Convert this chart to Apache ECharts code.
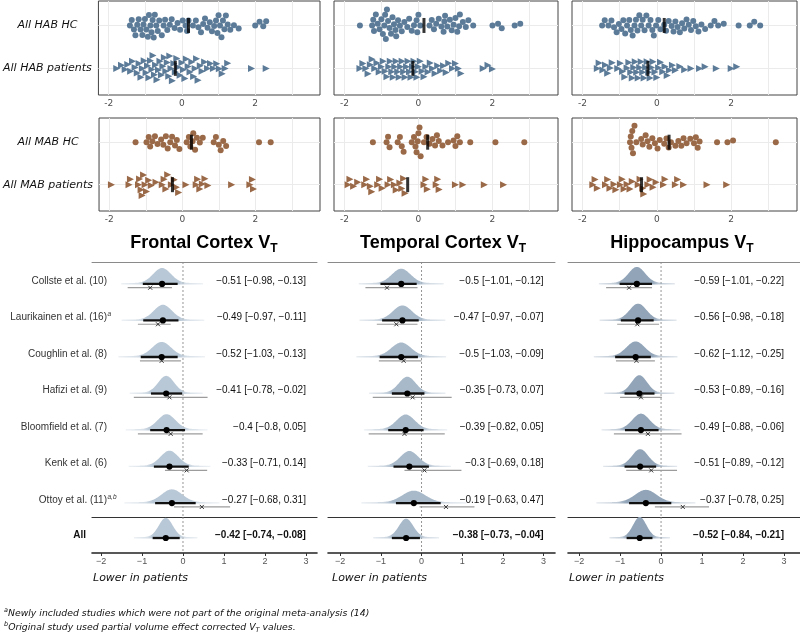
<!DOCTYPE html>
<html><head><meta charset="utf-8">
<script src="https://cdn.jsdelivr.net/npm/echarts@6/dist/echarts.min.js"></script>
<style>html,body{margin:0;padding:0;background:#fff}#c{width:800px;height:633px}</style>
</head><body><div id="c"></div>
<script>
// ---------------- data ----------------
const habRowLabels = ['All HAB patients', 'All HAB HC'];
const mabRowLabels = ['All MAB patients', 'All MAB HC'];
const regionTitles = ['Frontal Cortex V', 'Temporal Cortex V', 'Hippocampus V'];
const topTickLabels = [-2, 0, 2];
const gridTicks = [-2, -1, 0, 1, 2, 3];
const forestTickLabels = [-2, -1, 0, 1, 2, 3];

// individual standardized VT values (beeswarm panels)
const frontalHabHC = [-1.42,-1.37,-1.31,-1.27,-1.22,-1.18,-1.13,-1.08,-1.05,-1.01,-0.97,-0.93,-0.9,-0.86,-0.83,-0.8,-0.77,-0.74,-0.7,-0.66,-0.62,-0.55,-0.5,-0.46,-0.4,-0.33,-0.28,-0.2,-0.12,-0.05,0.02,0.1,0.14,0.18,0.3,0.38,0.45,0.52,0.58,0.63,0.7,0.76,0.82,0.88,0.93,0.97,1.0,1.04,1.08,1.12,1.16,1.2,1.25,1.32,1.42,1.55,2.0,2.12,2.22,2.3];
const frontalHabPt = [-1.78,-1.65,-1.55,-1.48,-1.4,-1.35,-1.28,-1.22,-1.17,-1.12,-1.08,-1.03,-0.98,-0.94,-0.9,-0.86,-0.82,-0.79,-0.75,-0.72,-0.68,-0.64,-0.6,-0.56,-0.52,-0.48,-0.44,-0.4,-0.36,-0.33,-0.3,-0.26,-0.22,-0.18,-0.14,-0.1,-0.05,0.0,0.04,0.08,0.12,0.17,0.22,0.27,0.32,0.36,0.4,0.44,0.5,0.55,0.62,0.7,0.78,0.86,0.95,1.02,1.1,1.18,1.25,1.9,2.3];
const frontalMabHC = [-1.28,-0.98,-0.92,-0.88,-0.82,-0.75,-0.68,-0.58,-0.52,-0.45,-0.4,-0.33,-0.28,-0.2,-0.15,-0.08,0.12,0.18,0.22,0.28,0.3,0.35,0.4,0.48,0.56,0.86,0.92,1.0,1.05,1.12,1.2,2.1,2.42];
const frontalMabPt = [-1.94,-1.46,-1.42,-1.2,-1.17,-1.13,-1.1,-1.06,-1.02,-0.98,-0.92,-0.85,-0.72,-0.55,-0.5,-0.45,-0.4,-0.3,-0.22,-0.16,-0.1,0.1,0.38,0.42,0.48,0.55,0.62,0.7,1.35,1.85,1.92,1.95];
const temporalHabHC = [-1.58,-1.25,-1.22,-1.2,-1.15,-1.1,-1.05,-1.0,-0.96,-0.92,-0.9,-0.88,-0.85,-0.82,-0.78,-0.74,-0.7,-0.66,-0.62,-0.6,-0.55,-0.5,-0.45,-0.38,-0.3,-0.25,-0.18,-0.12,-0.05,-0.03,0.0,0.05,0.3,0.36,0.42,0.48,0.55,0.62,0.68,0.7,0.72,0.78,0.85,0.9,0.95,1.0,1.05,1.1,1.12,1.2,1.28,1.35,1.48,2.0,2.15,2.25,2.6,2.75];
const temporalHabPt = [-1.58,-1.5,-1.42,-1.36,-1.3,-1.25,-1.18,-1.12,-1.06,-1.0,-0.95,-0.9,-0.85,-0.8,-0.76,-0.72,-0.68,-0.64,-0.6,-0.56,-0.52,-0.48,-0.44,-0.4,-0.36,-0.32,-0.28,-0.24,-0.2,-0.16,-0.12,-0.08,-0.04,0.0,0.05,0.1,0.15,0.2,0.26,0.32,0.38,0.45,0.52,0.6,0.68,0.75,0.82,0.92,1.0,1.08,1.15,1.75,1.88,2.0];
const temporalMabHC = [-1.23,-0.86,-0.82,-0.78,-0.56,-0.5,-0.45,-0.4,-0.18,-0.12,-0.08,-0.05,-0.02,0.0,0.03,0.06,0.15,0.22,0.3,0.38,0.45,0.5,0.55,0.65,0.8,0.95,1.0,1.05,1.12,1.4,2.08,2.86];
const temporalMabPt = [-1.9,-1.85,-1.75,-1.64,-1.45,-1.4,-1.3,-1.26,-1.1,-1.05,-0.98,-0.82,-0.75,-0.65,-0.6,-0.5,-0.45,-0.4,-0.36,0.15,0.2,0.24,0.48,0.52,0.56,1.0,1.2,1.78,2.3];
const hippoHabHC = [-1.47,-1.4,-1.3,-1.22,-1.15,-1.08,-1.02,-0.95,-0.9,-0.85,-0.8,-0.74,-0.7,-0.65,-0.6,-0.56,-0.52,-0.47,-0.42,-0.38,-0.33,-0.28,-0.22,-0.17,-0.12,-0.08,-0.02,0.04,0.1,0.2,0.25,0.32,0.4,0.45,0.5,0.56,0.62,0.68,0.74,0.8,0.86,0.92,0.98,1.05,1.12,1.2,1.3,1.45,1.55,1.65,1.8,2.2,2.5,2.62,2.78];
const hippoHabPt = [-1.6,-1.55,-1.45,-1.38,-1.32,-1.25,-1.2,-1.05,-0.98,-0.92,-0.86,-0.8,-0.75,-0.7,-0.66,-0.62,-0.58,-0.54,-0.5,-0.46,-0.42,-0.38,-0.34,-0.3,-0.26,-0.22,-0.18,-0.14,-0.1,-0.05,0.0,0.05,0.1,0.16,0.22,0.28,0.34,0.42,0.5,0.62,0.75,0.92,1.15,1.3,1.6,2.0,2.15];
const hippoMabHC = [-0.72,-0.7,-0.68,-0.66,-0.64,-0.6,-0.55,-0.42,-0.38,-0.3,-0.25,-0.2,-0.12,-0.05,0.02,0.08,0.2,0.26,0.32,0.38,0.5,0.58,0.66,0.72,0.8,0.9,1.0,1.05,1.1,1.15,1.62,1.9,2.05,3.2];
const hippoMabPt = [-1.72,-1.66,-1.6,-1.38,-1.32,-1.26,-1.15,-1.1,-0.98,-0.93,-0.88,-0.8,-0.72,-0.66,-0.5,-0.45,-0.38,-0.35,-0.24,-0.18,-0.1,-0.02,0.18,0.22,0.5,0.56,0.72,1.35,1.88];
// group means (black bars): HAB HC, HAB patients, MAB HC, MAB patients
const frontalMeans = [0.18, -0.18, 0.25, -0.27];
const temporalMeans = [0.15, -0.15, 0.25, -0.29];
const hippoMeans = [0.2, -0.24, 0.33, -0.41];

// forest plot
const studies = ['Collste et al. (10)', 'Laurikainen et al. (16)', 'Coughlin et al. (8)', 'Hafizi et al. (9)', 'Bloomfield et al. (7)', 'Kenk et al. (6)', 'Ottoy et al. (11)'];
const studySup = ['', 'a', '', '', '', '', 'a,b'];
const pooledLabel = 'All';
const frontalEst = [-0.51, -0.49, -0.52, -0.41, -0.4, -0.33, -0.27];
const frontalLo  = [-0.98, -0.97, -1.03, -0.78, -0.8, -0.71, -0.68];
const frontalHi  = [-0.13, -0.11, -0.13, -0.02, 0.05, 0.14, 0.31];
const frontalObs   = [-0.8, -0.61, -0.52, -0.33, -0.3, 0.09, 0.46];
const frontalObsLo = [-1.35, -1.1, -1.05, -1.2, -1.1, -0.44, -0.22];
const frontalObsHi = [-0.27, -0.3, -0.05, 0.6, 0.48, 0.59, 1.15];
const frontalAll = [-0.42, -0.74, -0.08];
const temporalEst = [-0.5, -0.47, -0.5, -0.35, -0.39, -0.3, -0.19];
const temporalLo  = [-1.01, -0.97, -1.03, -0.73, -0.82, -0.69, -0.63];
const temporalHi  = [-0.12, -0.07, -0.09, 0.07, 0.05, 0.18, 0.47];
const temporalObs   = [-0.85, -0.62, -0.44, -0.22, -0.42, 0.07, 0.6];
const temporalObsLo = [-1.38, -1.1, -1.05, -1.2, -1.3, -0.42, -0.05];
const temporalObsHi = [-0.1, -0.1, 0.0, 0.74, 0.57, 0.98, 1.3];
const temporalAll = [-0.38, -0.73, -0.04];
const hippoEst = [-0.59, -0.56, -0.62, -0.53, -0.49, -0.51, -0.37];
const hippoLo  = [-1.01, -0.98, -1.12, -0.89, -0.88, -0.89, -0.78];
const hippoHi  = [-0.22, -0.18, -0.25, -0.16, -0.06, -0.12, 0.25];
const hippoObs   = [-0.78, -0.58, -0.6, -0.49, -0.32, -0.24, 0.53];
const hippoObsLo = [-1.34, -1.07, -1.1, -1.0, -1.15, -0.85, -0.15];
const hippoObsHi = [-0.22, -0.05, -0.15, 0.02, 0.5, 0.39, 1.17];
const hippoAll = [-0.52, -0.84, -0.21];

// ---------------- layout / style ----------------
const HAB_COL = '#5b7b98', MAB_COL = '#9a6947';
const FONT = 'Liberation Sans, Arial, sans-serif';
const DFONT = 'DejaVu Sans, Verdana, sans-serif';
const topLeft = [96, 334, 572], topW = [224, 224, 225];
const topTop = [1, 118], topH = [94, 93];
const topX = [-2.28, 3.77], topY = [0.38, 2.57];
const fLeft = [92, 328, 568], fW = [225, 227, 232];
const fRange = [[-2.22, 3.27], [-2.3, 3.28], [-2.27, 3.39]];
const fTop = 262, fH = 255, aTop = 517, aH = 36;
const fY = [0.62, 7.6], aY = [0.59, 1.575];
const slabRGB = [[185, 200, 214], [168, 185, 202], [145, 164, 184]];

const regions = [
  {hab: [frontalHabHC, frontalHabPt], mab: [frontalMabHC, frontalMabPt], means: frontalMeans,
   est: frontalEst, lo: frontalLo, hi: frontalHi, obs: frontalObs, oLo: frontalObsLo, oHi: frontalObsHi, all: frontalAll},
  {hab: [temporalHabHC, temporalHabPt], mab: [temporalMabHC, temporalMabPt], means: temporalMeans,
   est: temporalEst, lo: temporalLo, hi: temporalHi, obs: temporalObs, oLo: temporalObsLo, oHi: temporalObsHi, all: temporalAll},
  {hab: [hippoHabHC, hippoHabPt], mab: [hippoMabHC, hippoMabPt], means: hippoMeans,
   est: hippoEst, lo: hippoLo, hi: hippoHi, obs: hippoObs, oLo: hippoObsLo, oHi: hippoObsHi, all: hippoAll}
];

// beeswarm layout (pixel offsets) computed from the values
function swarm(vals, pxX, d) {
  const idx = vals.map((v, i) => i).sort((a, b) => vals[a] - vals[b]);
  const placed = [], out = new Array(vals.length);
  for (const i of idx) {
    const x = vals[i] * pxX;
    const near = placed.filter(p => Math.abs(p.x - x) < d);
    const cands = [0];
    near.forEach(p => { const dy = Math.sqrt(d * d - (p.x - x) ** 2); cands.push(p.y + dy, p.y - dy); });
    cands.sort((a, b) => Math.abs(a) - Math.abs(b));
    let y = 0;
    for (const c of cands) {
      if (near.every(p => (p.x - x) ** 2 + (p.y - c) ** 2 >= d * d - 1e-6)) { y = c; break; }
    }
    placed.push({x, y}); out[i] = y;
  }
  return out;
}
const PXX = 37, PXY = 43;
function swarmData(vals, row) {
  const off = swarm(vals, PXX, 5.8);
  return vals.map((v, i) => [v, row + off[i] / PXY]);
}
const minus = v => String(v).replace('-', '\u2212');

const grids = [], xAxes = [], yAxes = [], series = [];
function addGrid(g) { grids.push(g); return grids.length - 1; }

// ---- top beeswarm panels ----
for (let rr = 0; rr < 2; rr++) {
  for (let c = 0; c < 3; c++) {
    const gi = addGrid({left: topLeft[c], top: topTop[rr], width: topW[c], height: topH[rr], show: true,
      borderColor: '#444', borderWidth: 1, backgroundColor: '#fff', containLabel: false});
    xAxes.push({gridIndex: gi, type: 'value', min: topX[0], max: topX[1],
      axisLine: {show: false}, axisTick: {show: false, customValues: gridTicks},
      axisLabel: {customValues: topTickLabels, color: '#4d4d4d', fontSize: 9, fontFamily: DFONT, margin: 4},
      splitLine: {show: true, lineStyle: {color: '#ebebeb', width: 1}}});
    const labels = rr === 0 ? habRowLabels : mabRowLabels;
    yAxes.push({gridIndex: gi, type: 'value', min: topY[0], max: topY[1],
      axisLine: {show: false}, axisTick: {show: false, customValues: [1, 2]},
      axisLabel: {show: c === 0, customValues: [1, 2], formatter: v => labels[Math.round(v) - 1],
        align: 'center', margin: topLeft[0] - 45, color: '#111', fontSize: 11, fontStyle: 'italic', fontFamily: DFONT},
      splitLine: {show: true, lineStyle: {color: '#ebebeb', width: 1}}});
    const reg = regions[c];
    const grp = rr === 0 ? reg.hab : reg.mab;
    const col = rr === 0 ? HAB_COL : MAB_COL;
    series.push({type: 'scatter', xAxisIndex: gi, yAxisIndex: gi, data: swarmData(grp[0], 2),
      symbol: 'circle', symbolSize: 6, itemStyle: {color: col, opacity: 1}, silent: true, z: 2});
    series.push({type: 'scatter', xAxisIndex: gi, yAxisIndex: gi, data: swarmData(grp[1], 1),
      symbol: 'triangle', symbolSize: [7, 7], symbolRotate: -90, itemStyle: {color: col, opacity: 1}, silent: true, z: 2});
    series.push({type: 'scatter', xAxisIndex: gi, yAxisIndex: gi,
      data: [[reg.means[rr * 2], 2], [reg.means[rr * 2 + 1], 1]],
      symbol: 'rect', symbolSize: [3, 15], itemStyle: {color: '#000'}, silent: true, z: 5});
  }
}

// ---- forest panels ----
function forestRender(c) {
  const rgb = slabRGB[c];
  const rgba = a => `rgba(${rgb[0]},${rgb[1]},${rgb[2]},${a})`;
  return function (params, api) {
    const est = api.value(0), row = api.value(1), lo = api.value(2), hi = api.value(3);
    const obs = api.value(4), oLo = api.value(5), oHi = api.value(6), li = api.value(7);
    const sd = (hi - lo) / 3.92;
    const base = api.coord([est, row]);
    const H = 3.25 / sd;
    const pts = [];
    for (let z = -4.6; z <= 4.6001; z += 0.1) {
      const p = api.coord([est + z * sd, row]);
      pts.push([p[0], base[1] - (H * Math.exp(-0.5 * z * z) + 0.9)]);
    }
    pts.push([pts[pts.length - 1][0], base[1] + 0.5]);
    pts.push([pts[0][0], base[1] + 0.5]);
    const ch = [];
    ch.push({type: 'polygon', shape: {points: pts}, style: {fill: new echarts.graphic.LinearGradient(0, 0, 1, 0, [
      {offset: 0, color: rgba(0.25)}, {offset: 0.22, color: rgba(0.6)}, {offset: 0.3, color: rgba(1)},
      {offset: 0.7, color: rgba(1)}, {offset: 0.78, color: rgba(0.6)}, {offset: 1, color: rgba(0.25)}])}});
    if (!isNaN(obs)) {
      const a = api.coord([oLo, row]), b = api.coord([oHi, row]), o = api.coord([obs, row]);
      const yy = base[1] + 3.8;
      ch.push({type: 'line', shape: {x1: a[0], y1: yy, x2: b[0], y2: yy}, style: {stroke: '#9c9c9c', lineWidth: 1.2}});
      ch.push({type: 'line', shape: {x1: o[0] - 2, y1: yy - 2, x2: o[0] + 2, y2: yy + 2}, style: {stroke: '#333', lineWidth: 1}});
      ch.push({type: 'line', shape: {x1: o[0] - 2, y1: yy + 2, x2: o[0] + 2, y2: yy - 2}, style: {stroke: '#333', lineWidth: 1}});
    }
    const l = api.coord([lo, row]), h = api.coord([hi, row]);
    ch.push({type: 'line', shape: {x1: l[0], y1: base[1], x2: h[0], y2: base[1]}, style: {stroke: '#111', lineWidth: 2.3}});
    ch.push({type: 'circle', shape: {cx: base[0], cy: base[1], r: 3.1}, style: {fill: '#000'}});
    const isAll = li < 0;
    const tx = api.coord([3, row]);
    const txt = `${minus(est)} [${minus(lo)}, ${minus(hi)}]`;
    ch.push({type: 'text', x: tx[0], y: base[1] - 3, style: {text: txt, align: 'right', verticalAlign: 'middle',
      fontSize: 10, fontFamily: FONT, fontWeight: isAll ? 'bold' : 'normal', fill: '#111'}});
    if (c === 0) {
      const left = params.coordSys.x;
      if (isAll) {
        ch.push({type: 'text', x: left - 6, y: base[1] - 3, style: {text: pooledLabel, align: 'right', verticalAlign: 'middle',
          fontSize: 10, fontFamily: FONT, fontWeight: 'bold', fill: '#111'}});
      } else {
        const sup = studySup[li];
        ch.push({type: 'text', x: left + 15, y: base[1] - 3, style: {
          text: studies[li], align: 'right', verticalAlign: 'middle',
          fontSize: 10, fontFamily: FONT, fill: '#333'}});
        if (sup) {
          ch.push({type: 'text', x: left + 15.5, y: base[1] - 6, style: {
            text: sup, align: 'left', verticalAlign: 'middle',
            fontSize: 6.5, fontFamily: FONT, fontStyle: 'italic', fill: '#333'}});
        }
      }
    }
    return {type: 'group', children: ch};
  };
}
function zeroLine(params, api) {
  const cs = params.coordSys;
  const p = api.coord([0, (api.value(1))]);
  return {type: 'line', shape: {x1: p[0], y1: cs.y, x2: p[0], y2: cs.y + cs.height},
    style: {stroke: '#8a8a8a', lineWidth: 0.9, lineDash: [2, 2]}};
}

for (let c = 0; c < 3; c++) {
  const reg = regions[c];
  const gs = addGrid({left: fLeft[c], top: fTop, width: fW[c], height: fH});
  xAxes.push({gridIndex: gs, type: 'value', min: fRange[c][0], max: fRange[c][1], position: 'bottom',
    axisLine: {show: true, lineStyle: {color: '#333', width: 1.2}}, axisTick: {show: false},
    axisLabel: {show: false}, splitLine: {show: false}});
  const xS = xAxes.length - 1;
  xAxes.push({gridIndex: gs, type: 'value', min: fRange[c][0], max: fRange[c][1], position: 'top',
    axisLine: {show: true, lineStyle: {color: '#8a8a8a', width: 1}}, axisTick: {show: false},
    axisLabel: {show: false}, splitLine: {show: false}});
  yAxes.push({gridIndex: gs, type: 'value', min: fY[0], max: fY[1], show: false, splitLine: {show: false}});
  const yS = yAxes.length - 1;
  const studyData = studies.map((s, i) => [reg.est[i], 7 - i, reg.lo[i], reg.hi[i], reg.obs[i], reg.oLo[i], reg.oHi[i], i]);
  series.push({type: 'custom', xAxisIndex: xS, yAxisIndex: yS, data: [[0, 1]], renderItem: zeroLine, silent: true, z: 1, clip: false});
  series.push({type: 'custom', xAxisIndex: xS, yAxisIndex: yS, data: studyData, renderItem: forestRender(c),
    encode: {x: 0, y: 1}, silent: true, z: 3, clip: false});

  const ga = addGrid({left: fLeft[c], top: aTop, width: fW[c], height: aH});
  xAxes.push({gridIndex: ga, type: 'value', min: fRange[c][0], max: fRange[c][1], position: 'bottom',
    axisLine: {show: true, lineStyle: {color: '#222', width: 1.6}},
    axisTick: {show: true, customValues: forestTickLabels, length: 3, lineStyle: {color: '#333'}},
    axisLabel: {customValues: forestTickLabels, formatter: v => minus(v), color: '#555', fontSize: 9, fontFamily: FONT, margin: 4},
    splitLine: {show: false}});
  yAxes.push({gridIndex: ga, type: 'value', min: aY[0], max: aY[1], show: false, splitLine: {show: false}});
  const xa = xAxes.length - 1, ya = yAxes.length - 1;
  series.push({type: 'custom', xAxisIndex: xa, yAxisIndex: ya, data: [[0, 1]], renderItem: zeroLine, silent: true, z: 1, clip: false});
  series.push({type: 'custom', xAxisIndex: xa, yAxisIndex: ya,
    data: [[reg.all[0], 1, reg.all[1], reg.all[2], NaN, NaN, NaN, -1]], renderItem: forestRender(c),
    encode: {x: 0, y: 1}, silent: true, z: 3, clip: false});
}

const titleCenters = [204, 443, 682];
const titles = regionTitles.map((t, i) => ({
  text: '{m|' + t + '}{s|T}', left: titleCenters[i], top: 231, textAlign: 'center', padding: 0,
  textStyle: {rich: {m: {fontSize: 18, fontFamily: FONT, color: '#000', lineHeight: 24},
                     s: {fontSize: 12, fontFamily: FONT, color: '#000', lineHeight: 12, verticalAlign: 'bottom'}}}
}));

const graphics = [];
fLeft.forEach((l, i) => graphics.push({type: 'text', left: l + 1 + (i === 1 ? 3 : 0), top: 573,
  style: {text: 'Lower in patients', fontSize: 11, fontFamily: DFONT, fontStyle: 'italic', fill: '#111'}}));
graphics.push({type: 'text', left: 4, top: 607, style: {
  text: '{sup|a}{t|Newly included studies which were not part of the original meta-analysis (14)}',
  rich: {t: {fontSize: 9.3, fontFamily: DFONT, fontStyle: 'italic', fill: '#111', lineHeight: 13},
         sup: {fontSize: 6.5, fontFamily: DFONT, fontStyle: 'italic', fill: '#111', verticalAlign: 'top', lineHeight: 13}}}});
graphics.push({type: 'text', left: 4, top: 621, style: {
  text: '{sup|b}{t|Original study used partial volume effect corrected V}{sub|T}{t| values.}',
  rich: {t: {fontSize: 9.3, fontFamily: DFONT, fontStyle: 'italic', fill: '#111', lineHeight: 13},
         sub: {fontSize: 6.5, fontFamily: DFONT, fontStyle: 'italic', fill: '#111', verticalAlign: 'bottom', lineHeight: 9},
         sup: {fontSize: 6.5, fontFamily: DFONT, fontStyle: 'italic', fill: '#111', verticalAlign: 'top', lineHeight: 13}}}});

const chart = echarts.init(document.getElementById('c'), null, {renderer: 'canvas'});
chart.setOption({
  animation: false, backgroundColor: '#fff',
  title: titles, grid: grids, xAxis: xAxes, yAxis: yAxes, series: series, graphic: graphics
});
</script>
</body></html>
